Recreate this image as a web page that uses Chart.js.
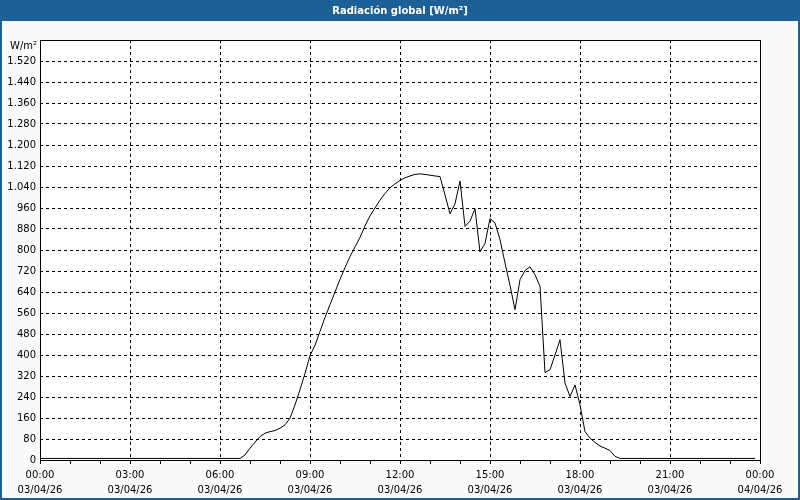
<!DOCTYPE html>
<html>
<head>
<meta charset="utf-8">
<script src="https://cdn.jsdelivr.net/npm/chart.js@4/dist/chart.umd.min.js"></script>
<style>
  html, body { margin: 0; padding: 0; background: #f9fbf9; }
  #wrap { width: 800px; height: 500px; position: relative; }
</style>
</head>
<body>
<div id="wrap"><canvas id="c" width="800" height="500"></canvas></div>
<script>
const chartTitle = 'Radiación global [W/m²]';
const unitLabel = 'W/m²';
// radiation every 10 minutes from 00:00 to 23:50 (W/m²)
const radiation = [
  6, 6, 6, 6, 6, 6, 6, 6, 6, 6, 6, 6,          // 00:00-01:50
  6, 6, 6, 6, 6, 6, 6, 6, 6, 6, 6, 6,          // 02:00-03:50
  6, 6, 6, 6, 6, 6, 6, 6, 6, 6, 6, 6,          // 04:00-05:50
  6, 6, 6, 6, 6, 19, 45, 68, 89, 102, 108, 112, // 06:00-07:50
  121, 134, 159, 210, 268, 330, 398, 437, 490, 543, 592, 640, // 08:00-09:50
  688, 733, 775, 812, 848, 892, 930, 960, 990, 1015, 1037, 1052, // 10:00-11:50
  1065, 1075, 1082, 1088, 1090, 1088, 1085, 1082, 1080, 1010, 938, 976, // 12:00-13:50
  1063, 890, 910, 957, 793, 825, 920, 903, 840, 751, 665, 573, // 14:00-15:50
  687, 722, 736, 706, 662, 333, 344, 400, 458, 293, 242, 286, // 16:00-17:50
  210, 108, 83, 67, 53, 45, 36, 14, 6, 6, 6, 6, // 18:00-19:50
  6, 6, 6, 6, 6, 6, 6, 6, 6, 6, 6, 6,          // 20:00-21:50
  6, 6, 6, 6, 6, 6, 6, 6, 6, 6, 6, 6           // 22:00-23:50
];
const sampleMinutes = radiation.map((_, i) => i * 10);
const xTickTimes = ['00:00', '03:00', '06:00', '09:00', '12:00', '15:00', '18:00', '21:00', '00:00'];
const xTickDates = ['03/04/26', '03/04/26', '03/04/26', '03/04/26', '03/04/26', '03/04/26', '03/04/26', '03/04/26', '04/04/26'];
const yMax = 1600;
const yStep = 80;

const FONT = '"DejaVu Sans", Verdana, sans-serif';
const BLUE = '#1d6098';

const framePlugin = {
  id: 'frame',
  beforeDraw(chart) {
    const ctx = chart.ctx, a = chart.chartArea;
    ctx.save();
    ctx.fillStyle = '#f9fbf9';
    ctx.fillRect(0, 0, chart.width, chart.height);
    ctx.fillStyle = '#ffffff';
    ctx.fillRect(a.left, a.top, a.right - a.left, a.bottom - a.top);
    ctx.restore();
  },
  afterDraw(chart) {
    const ctx = chart.ctx, a = chart.chartArea;
    ctx.save();
    // plot frame
    ctx.strokeStyle = '#000';
    ctx.lineWidth = 1;
    ctx.setLineDash([]);
    ctx.strokeRect(Math.round(a.left) + 0.5, Math.round(a.top) + 0.5,
                   Math.round(a.right - a.left), Math.round(a.bottom - a.top));
    // title bar
    ctx.fillStyle = BLUE;
    ctx.fillRect(0, 0, chart.width, 21);
    ctx.fillStyle = '#ffffff';
    ctx.font = 'bold 10px ' + FONT;
    ctx.textAlign = 'center';
    ctx.textBaseline = 'middle';
    ctx.fillText(chartTitle, 400, 11);
    // window border
    ctx.fillStyle = BLUE;
    ctx.fillRect(0, 0, 2, chart.height);
    ctx.fillRect(chart.width - 2, 0, 2, chart.height);
    ctx.fillRect(0, chart.height - 2, chart.width, 2);
    // unit label
    ctx.fillStyle = '#000';
    ctx.font = '10px ' + FONT;
    ctx.textAlign = 'right';
    ctx.textBaseline = 'middle';
    ctx.fillText(unitLabel, 37, 46);
    ctx.restore();
  }
};

new Chart(document.getElementById('c'), {
  type: 'line',
  data: {
    datasets: [{
      data: sampleMinutes.map((m, i) => ({ x: m, y: radiation[i] })),
      borderColor: '#000',
      borderWidth: 1,
      pointRadius: 0,
      tension: 0,
      fill: false
    }]
  },
  options: {
    responsive: false,
    animation: false,
    events: [],
    layout: { padding: { top: 40, right: 40, left: 0, bottom: 0 } },
    plugins: { legend: { display: false }, tooltip: { enabled: false }, title: { display: false } },
    scales: {
      x: {
        type: 'linear',
        min: 0,
        max: 1440,
        afterFit(scale) { scale.height = 40; },
        afterBuildTicks(scale) {
          const t = [];
          for (let v = 0; v <= 1440; v += 60) t.push({ value: v });
          scale.ticks = t;
        },
        grid: {
          color: ctx => (ctx.tick && ctx.tick.value % 180 === 0 && ctx.tick.value > 0 && ctx.tick.value < 1440) ? '#000' : 'rgba(0,0,0,0)',
          tickColor: '#000',
          tickLength: 4,
          tickBorderDash: [],
          drawTicks: true
        },
        border: { display: false, dash: [3, 3] },
        ticks: {
          autoSkip: false,
          maxRotation: 0,
          minRotation: 0,
          padding: 4,
          color: '#000',
          font: { family: FONT, size: 10, lineHeight: 1.5 },
          callback: (v) => {
            if (v % 180 !== 0) return '';
            const k = v / 180;
            return [xTickTimes[k], xTickDates[k]];
          }
        }
      },
      y: {
        min: 0,
        max: yMax,
        afterFit(scale) { scale.width = 40; },
        afterBuildTicks(scale) {
          const t = [];
          for (let v = 0; v <= yMax; v += yStep) t.push({ value: v });
          scale.ticks = t;
        },
        grid: {
          color: ctx => (ctx.tick && ctx.tick.value > 0 && ctx.tick.value < yMax) ? '#000' : 'rgba(0,0,0,0)',
          drawTicks: false
        },
        border: { display: false, dash: [3, 3] },
        ticks: {
          padding: 4,
          color: '#000',
          font: { family: FONT, size: 10 },
          callback: (v) => v >= yMax ? '' : String(v).replace(/\B(?=(\d{3})+(?!\d))/g, '.')
        }
      }
    }
  },
  plugins: [framePlugin]
});
</script>
</body>
</html>
